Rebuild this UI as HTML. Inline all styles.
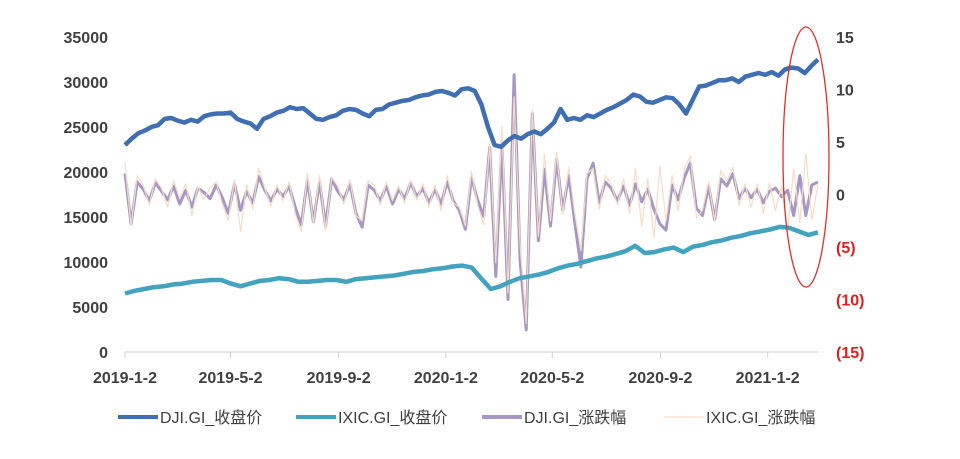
<!DOCTYPE html>
<html><head><meta charset="utf-8"><style>
body{margin:0;background:#fff;}
svg text{font-family:"Liberation Sans","Noto Sans CJK SC",sans-serif;}
</style></head><body>
<svg id="chart" width="960" height="454" xmlns="http://www.w3.org/2000/svg">
<g id="axes"></g>
<g id="series"></g>
<ellipse cx="806" cy="157" rx="23" ry="130" fill="none" stroke="#e0302a" stroke-width="1.3"/>
<g id="legend"></g>
</svg>
<script>
const startDate = "2019-01-02";
const endDate = "2021-03-08";
const xTickLabels = ["2019-1-2","2019-5-2","2019-9-2","2020-1-2","2020-5-2","2020-9-2","2021-1-2"];
const leftTicks = [0,5000,10000,15000,20000,25000,30000,35000];
const rightTicks = [-15,-10,-5,0,5,10,15];
const djiClose = [23.0,23.7,24.3,24.6,25.0,25.2,25.9,26.0,25.7,25.5,25.8,25.6,26.2,26.4,26.5,26.5,26.6,25.9,25.6,25.4,24.8,25.9,26.2,26.6,26.8,27.2,27.0,27.1,26.5,25.9,25.8,26.1,26.3,26.8,27.0,26.9,26.5,26.2,26.9,27.0,27.5,27.7,27.9,28.0,28.3,28.5,28.6,28.9,29.0,28.8,28.5,29.2,29.3,29.0,27.5,25.0,23.0,22.8,23.5,24.0,23.7,24.2,24.5,24.2,24.8,25.5,27.0,25.8,26.0,25.8,26.3,26.1,26.5,26.9,27.2,27.6,28.0,28.6,28.4,27.8,27.7,28.0,28.3,28.2,27.5,26.5,28.0,29.5,29.6,29.9,30.2,30.2,30.4,30.0,30.6,30.8,31.0,30.8,31.1,30.7,31.4,31.6,31.5,31.0,31.8,32.5].map(v=>v*1000);
const ixicClose = [6.5,6.8,7.0,7.2,7.3,7.5,7.6,7.8,7.9,8.0,8.0,7.6,7.3,7.6,7.9,8.0,8.2,8.1,7.8,7.8,7.9,8.0,8.0,7.8,8.1,8.2,8.3,8.4,8.5,8.7,8.9,9.0,9.2,9.3,9.5,9.6,9.4,8.2,7.0,7.3,7.8,8.2,8.4,8.6,8.9,9.3,9.6,9.8,10.1,10.4,10.6,10.9,11.2,11.8,11.0,11.1,11.4,11.6,11.1,11.7,11.9,12.2,12.4,12.7,12.9,13.2,13.4,13.6,13.9,13.8,13.4,13.0,13.3].map(v=>v*1000);
const djiRet = [2.0,-2.8,1.2,0.5,-0.6,1.1,0.3,-0.5,0.8,-0.9,0.4,-1.2,0.6,0.2,-0.4,0.9,-0.3,-1.8,1.0,-1.5,0.3,-0.8,1.7,0.4,-0.6,0.5,-0.2,0.8,-1.2,-2.9,1.4,-2.6,1.2,-3.0,1.5,0.3,-0.5,1.0,-1.8,-3.1,0.9,0.4,-0.6,0.8,-0.9,0.5,-0.4,1.1,-0.2,0.6,-0.8,0.5,-0.9,1.2,-0.6,-1.5,-3.3,1.6,-0.5,-2.1,4.5,-7.8,5.0,-10.0,11.4,-6.3,-12.9,7.7,-4.4,2.4,-3.0,3.4,-1.5,1.8,-2.7,-6.9,1.5,3.0,-0.8,1.2,0.6,-0.6,0.8,-1.0,1.0,-0.7,0.5,-1.4,-2.8,-3.4,0.9,-0.5,1.6,3.0,-1.3,-2.0,0.8,-2.4,1.5,0.8,2.0,-0.4,0.6,-0.3,0.5,-0.8,0.3,0.6,-0.2,0.4,-2.0,1.8,-2.0,0.9,1.2];
const ixicRet = [3.0,-3.0,1.8,0.9,-1.0,1.5,0.6,-1.2,1.3,-0.4,1.0,-2.0,0.8,-0.5,0.7,1.2,-0.9,-2.5,1.4,-3.5,0.9,-1.4,2.5,0.6,-1.1,0.9,-0.6,1.2,-1.8,-3.5,2.0,-2.8,1.8,-3.4,1.6,0.8,-0.9,1.4,-2.0,-2.5,1.3,0.9,-1.0,1.2,-0.6,0.8,-0.8,1.4,-0.5,1.0,-1.2,0.9,-1.5,1.8,-0.8,-1.2,-3.0,2.2,-1.0,-2.9,4.8,-6.5,6.5,-9.4,9.3,-4.8,-12.3,8.1,-4.0,3.8,-2.5,4.0,-1.9,2.6,-1.8,-5.3,2.0,2.5,-1.4,1.8,1.0,-1.0,1.5,-1.8,2.5,-3.0,1.5,-4.1,2.7,-2.5,1.8,-1.5,2.4,3.7,-2.2,-1.5,1.2,-2.5,2.3,1.3,2.6,-1.0,1.0,-1.2,1.0,-1.8,1.1,-1.5,0.8,-3.5,2.5,-2.7,3.9,-2.4,1.0];

const NS="http://www.w3.org/2000/svg";
const X0=125,X1=818,YT=37,YB=352;
const t0=Date.parse(startDate);
const pxPerDay=105.5/120;
function xDate(s){const p=s.split('-').map(Number);const t=Date.UTC(p[0],p[1]-1,p[2]);return X0+(t-t0)/86400000*pxPerDay;}
function xFrac(i,n){return X0+(X1-X0)*i/(n-1);}
function yL(v){return YB-(v/35000)*(YB-YT);}
function yR(v){return YB-((v+15)/30)*(YB-YT);}
function mk(tag,attrs,parent){const e=document.createElementNS(NS,tag);for(const k in attrs)e.setAttribute(k,attrs[k]);parent.appendChild(e);return e;}
const axes=document.getElementById('axes'), series=document.getElementById('series'), legend=document.getElementById('legend');

const xa=mk('line',{x1:X0,y1:YB,x2:X1,y2:YB,stroke:'#d0d0d0','stroke-width':1},axes);


xTickLabels.forEach(l=>{
  const x=xDate(l);
  const tk=mk('line',{x1:x,y1:YB,x2:x,y2:YB+6,stroke:'#d0d0d0'},axes);
  
  
  const t=mk('text',{x:x,y:YB+31,'text-anchor':'middle','font-size':16,'font-weight':'bold',fill:'#404040'},axes);
  t.textContent=l;
  
  
});
leftTicks.forEach(v=>{
  const t=mk('text',{x:108,y:yL(v)+6,'text-anchor':'end','font-size':16,'font-weight':'bold',fill:'#404040'},axes);
  t.textContent=v;
  
  
});
rightTicks.forEach(v=>{
  const t=mk('text',{x:836,y:yR(v)+6,'text-anchor':'start','font-size':16,'font-weight':'bold',fill:v<0?'#e0201a':'#404040'},axes);
  t.textContent=v<0?'('+(-v)+')':v;
  
  
});
function line(arr,yf,color,w,name){
  const d=arr.map((v,i)=>(i?'L':'M')+xFrac(i,arr.length).toFixed(1)+','+yf(v).toFixed(1)).join('');
  const p=mk('path',{d:d,fill:'none',stroke:color,'stroke-width':w,'stroke-linejoin':'round'},series);
  
  
}
line(djiRet,yR,'#a797c4',3,'dji-change-line');
line(ixicRet,yR,'#f6dcc6',1.2,'ixic-change-line');
line(djiClose,yL,'#3f6fb2',4.5,'dji-close-line');
line(ixicClose,yL,'#43a3bf',4.5,'ixic-close-line');

const items=[["DJI.GI_收盘价",'#3f6fb2',4,118],["IXIC.GI_收盘价",'#43a3bf',4,296],["DJI.GI_涨跌幅",'#a797c4',4,482],["IXIC.GI_涨跌幅",'#f6dcc6',1.2,664]];
items.forEach(it=>{
  const g=mk('g',{},legend);
  
  
  mk('line',{x1:it[3],y1:417,x2:it[3]+40,y2:417,stroke:it[1],'stroke-width':it[2]},g);
  const t=mk('text',{x:it[3]+42,y:423,'font-size':16,fill:'#404040'},g);
  t.textContent=it[0];
});
</script>
</body></html>
